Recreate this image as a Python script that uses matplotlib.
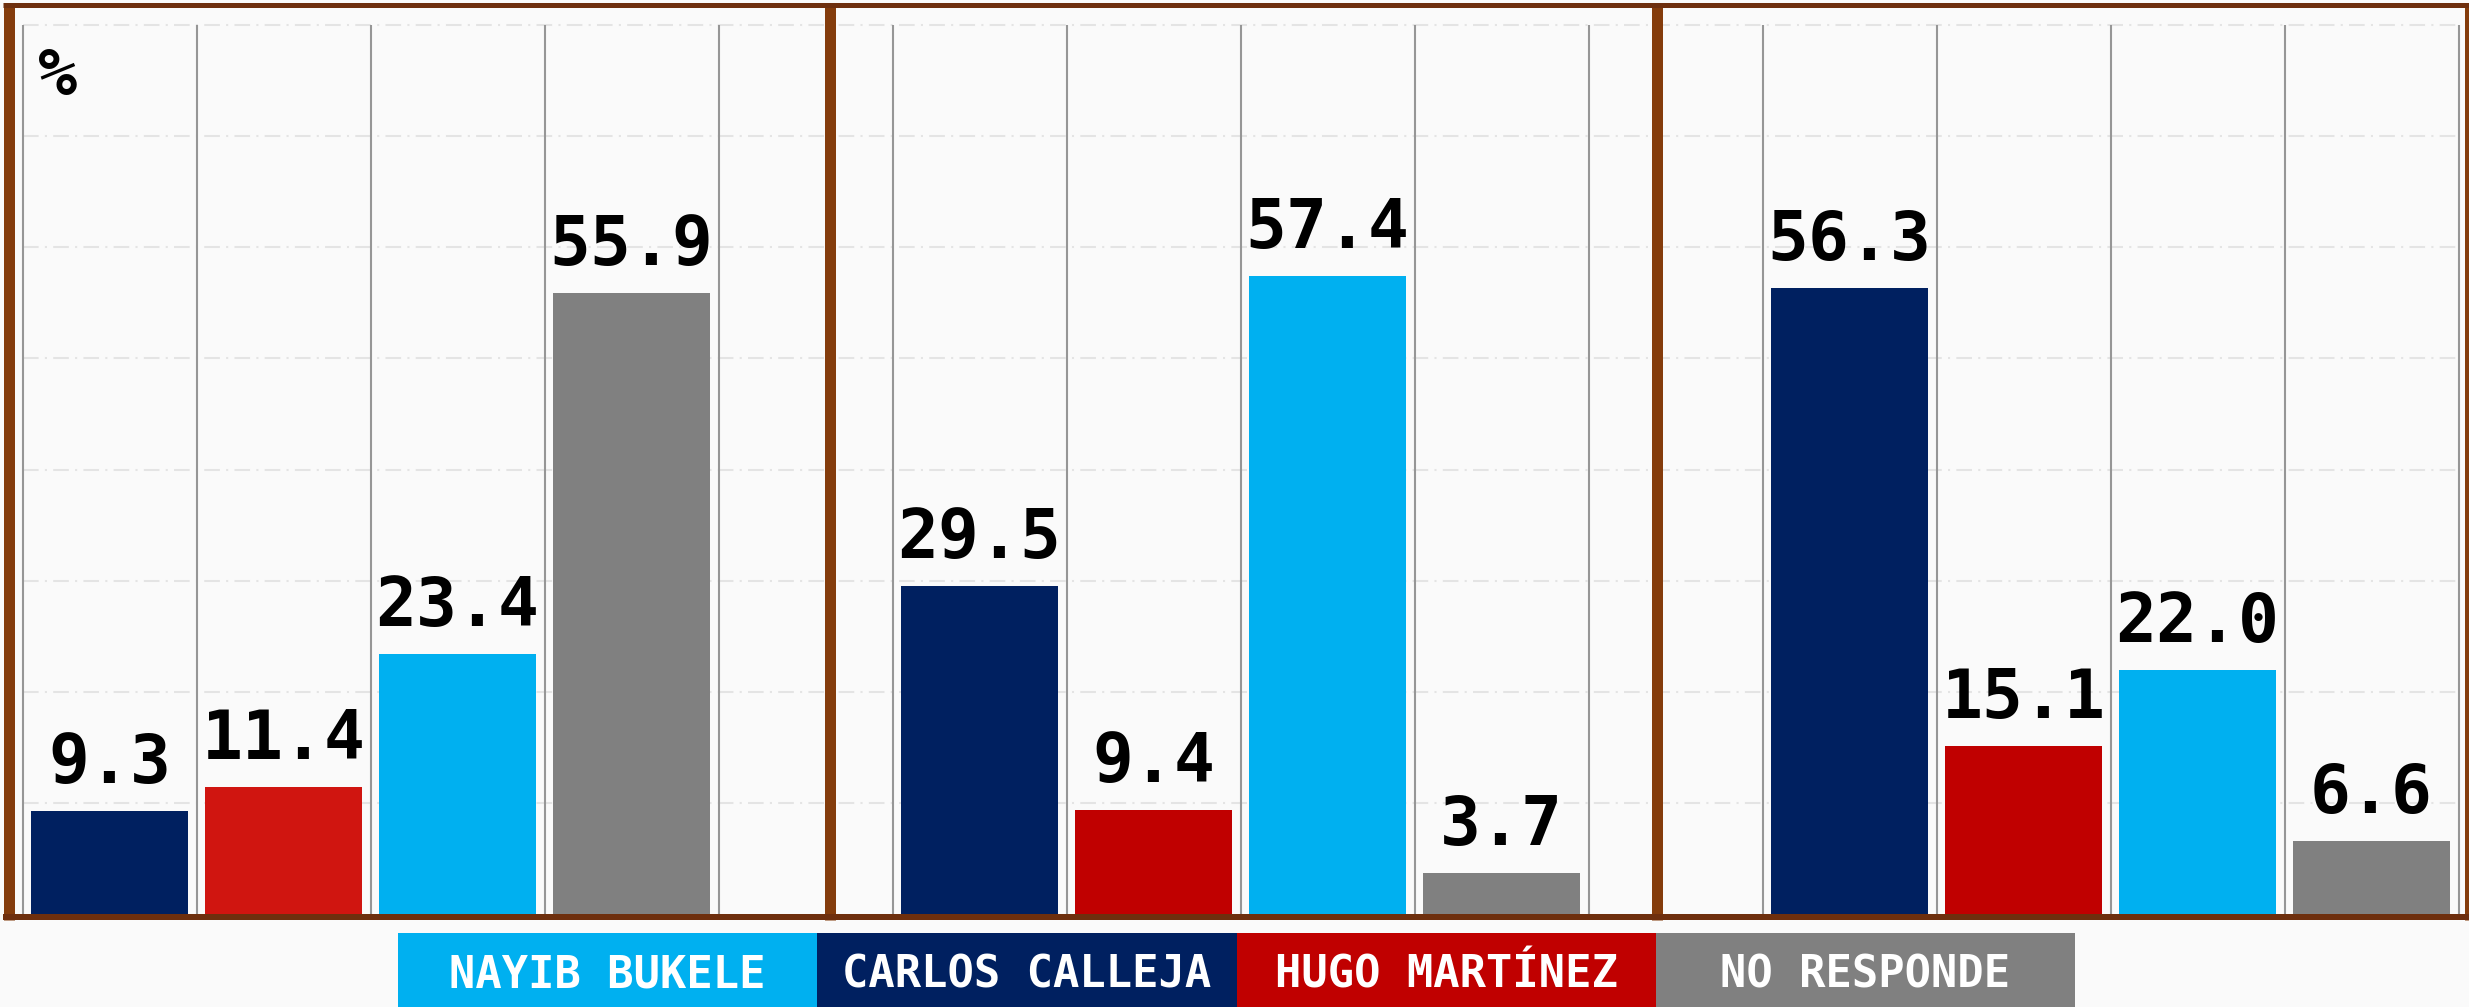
import matplotlib
matplotlib.use("Agg")
import numpy as np
import matplotlib.pyplot as plt
from matplotlib.lines import Line2D
from matplotlib.patches import Rectangle

# ---------------- data ----------------
legend_labels = ["NAYIB BUKELE", "CARLOS CALLEJA", "HUGO MARTÍNEZ", "NO RESPONDE"]
legend_colors = ["#00B0F0", "#002060", "#C00000", "#808080"]

# bar order inside each panel: Calleja, Martínez, Bukele, No responde
calleja = [9.3, 29.5, 56.3]
martinez = [11.4, 9.4, 15.1]
bukele = [23.4, 57.4, 22.0]
no_responde = [55.9, 3.7, 6.6]
red_per_panel = ["#D01510", "#C00000", "#C00000"]

# ---------------- layout ----------------
W, H, DPI = 2469, 1007, 100
BG = "#FAFAFA"
MONO = "DejaVu Sans Mono"
PX_PT = 72.0 / DPI

fig = plt.figure(figsize=(W / DPI, H / DPI), dpi=DPI, facecolor=BG)


def fx(px):
    return px / W


def fy(py):
    return 1 - py / H


base_px = 914.0
unit_px = 11.1125
slot_px = 174.0
x0_px = 109.5

ax = fig.add_axes([0, fy(base_px), 1, base_px / H])
ax.set_facecolor(BG)
ax.set_xlim((0 - x0_px) / slot_px, (W - x0_px) / slot_px)
ax.set_ylim(0, base_px / unit_px)
ax.axis("off")

n_panels = 3
slots = 5
# horizontal dash-dot grid
ax.hlines(np.arange(10, 81, 10), -0.5, n_panels * slots - 1.5, colors="#E4E4E4",
          linewidth=1.5, linestyles=[(0, (7.5, 3, 1, 3))], zorder=1)
# vertical separators
ax.vlines(np.arange(-0.5, n_panels * slots - 1, 1.0), 0, 80, colors="#969696",
          linewidth=1.5, zorder=2)

navy, cyan, gray = legend_colors[1], legend_colors[0], legend_colors[3]
for p in range(n_panels):
    vals = [calleja[p], martinez[p], bukele[p], no_responde[p]]
    cols = [navy, red_per_panel[p], cyan, gray]
    xs = [p * slots + s for s in range(4)]
    ax.bar(xs, vals, width=0.9, color=cols, zorder=3)
    for x, v in zip(xs, vals):
        ax.annotate(f"{v:.1f}", (x, v), xytext=(0, 28 * PX_PT), textcoords="offset points",
                    ha="center", va="baseline", fontsize=49, fontweight="bold",
                    family=MONO, color="black", zorder=4)

# "%" label
fig.text(fx(38), fy(95), "%", ha="left", va="baseline", fontsize=47,
         fontweight="bold", family=MONO, color="black")

# brown panel frames
vcol = "#843C0C"
hcol = "#6E2F0E"
for xc in [8.5, 829.5, 1657.5, 2469.5]:
    fig.add_artist(Line2D([fx(xc), fx(xc)], [fy(3), fy(920)], color=vcol,
                          linewidth=11 * PX_PT, solid_capstyle="butt", zorder=10))
fig.add_artist(Line2D([fx(3), fx(W)], [fy(5), fy(5)], color=hcol,
                      linewidth=5 * PX_PT, solid_capstyle="butt", zorder=11))
fig.add_artist(Line2D([fx(3), fx(W)], [fy(917), fy(917)], color=hcol,
                      linewidth=6 * PX_PT, solid_capstyle="butt", zorder=11))

# legend boxes
lx0, lw_box, ly0, ly1 = 398.0, 419.25, 933.0, 1007.0
for i, (lab, col) in enumerate(zip(legend_labels, legend_colors)):
    left = lx0 + i * lw_box
    fig.add_artist(Rectangle((fx(left), fy(ly1)), lw_box / W, (ly1 - ly0) / H,
                             transform=fig.transFigure, facecolor=col,
                             edgecolor="none", zorder=5))
    fig.text(fx(left + lw_box / 2), fy(988), lab, ha="center", va="baseline",
             fontsize=31.5, fontweight="bold", family=MONO, color="white", zorder=6)

fig.savefig("out.png", dpi=DPI, facecolor=BG)
